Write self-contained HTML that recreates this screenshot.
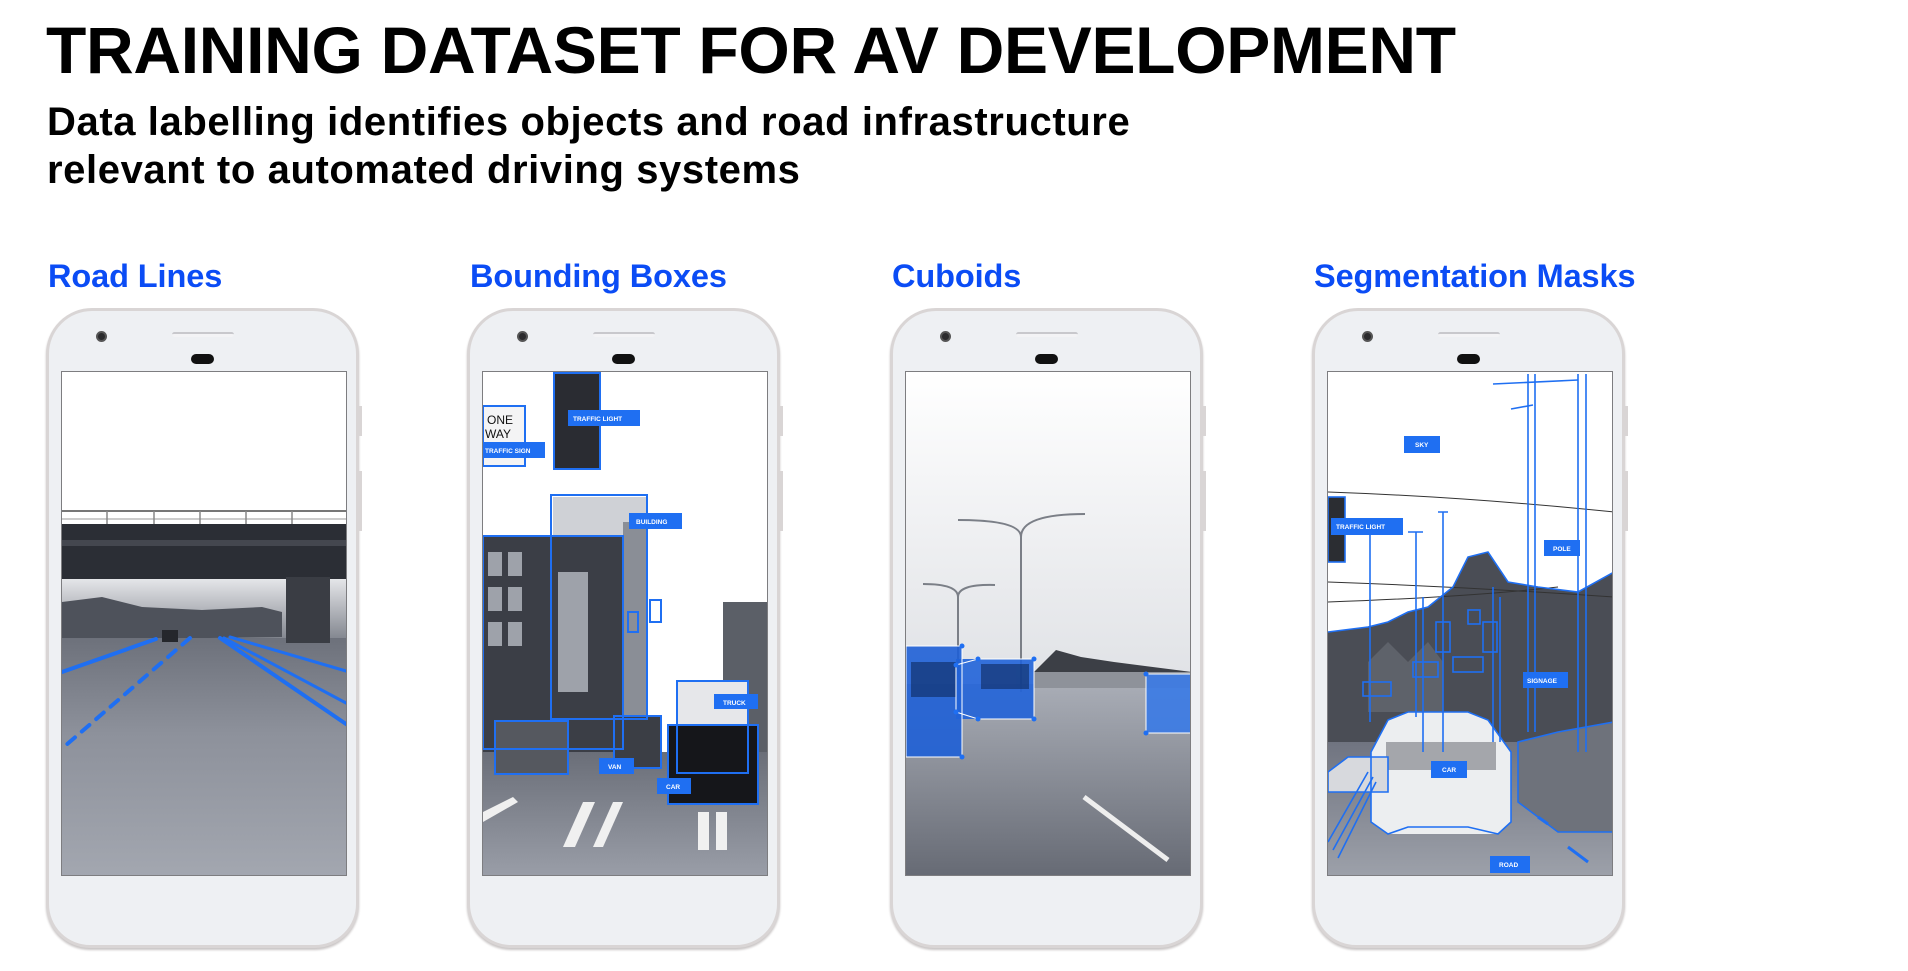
<!DOCTYPE html>
<html><head><meta charset="utf-8"><style>
*{margin:0;padding:0;box-sizing:border-box}
body{width:1908px;height:971px;background:#fff;position:relative;overflow:hidden;font-family:"Liberation Sans",sans-serif}
.t{position:absolute;left:46px;top:17px;font-size:66px;line-height:66px;font-weight:bold;color:#000;letter-spacing:-0.3px;white-space:nowrap}
.s{position:absolute;left:47px;font-size:40px;line-height:40px;font-weight:bold;color:#000;letter-spacing:0.6px;white-space:nowrap}
.h{position:absolute;top:260px;font-size:32.5px;line-height:32px;font-weight:bold;color:#0b4cf5;white-space:nowrap;letter-spacing:-0.1px}
.ph{position:absolute;top:308px;width:313px;height:640px;border:3px solid #d9d5d5;border-radius:46px 46px 44px 44px;background:#eef0f3;box-shadow:0 2px 2px #c9c5c5}
.cam{position:absolute;left:47px;top:20px;width:11px;height:11px;border-radius:50%;background:#2b2b2d;border:2px solid #555}
.spk{position:absolute;left:123px;top:21px;width:62px;height:5px;border-radius:3px;border-top:2px solid #c8c8cc;background:#f3f3f5}
.pil{position:absolute;left:142px;top:43px;width:23px;height:10px;border-radius:5px;background:#111}
.btn{position:absolute;right:-6px;width:3px;background:#d9d5d5}
.scr{position:absolute;top:371px;width:286px;height:505px;border:1px solid #7d7d80;background:#fff;overflow:hidden}
.scr svg{display:block}
</style></head><body>
<div class="t">TRAINING DATASET FOR AV DEVELOPMENT</div>
<div class="s" style="top:102px">Data labelling identifies objects and road infrastructure</div>
<div class="s" style="top:150px">relevant to automated driving systems</div>
<div class="h" style="left:48px">Road Lines</div>
<div class="h" style="left:470px">Bounding Boxes</div>
<div class="h" style="left:892px">Cuboids</div>
<div class="h" style="left:1314px">Segmentation Masks</div>

<div class="ph" style="left:46px"><div class="cam"></div><div class="spk"></div><div class="pil"></div><div class="btn" style="top:95px;height:30px"></div><div class="btn" style="top:160px;height:60px"></div></div>
<div class="ph" style="left:467px"><div class="cam"></div><div class="spk"></div><div class="pil"></div><div class="btn" style="top:95px;height:30px"></div><div class="btn" style="top:160px;height:60px"></div></div>
<div class="ph" style="left:890px"><div class="cam"></div><div class="spk"></div><div class="pil"></div><div class="btn" style="top:95px;height:30px"></div><div class="btn" style="top:160px;height:60px"></div></div>
<div class="ph" style="left:1312px"><div class="cam"></div><div class="spk"></div><div class="pil"></div><div class="btn" style="top:95px;height:30px"></div><div class="btn" style="top:160px;height:60px"></div></div>

<!-- screen 1 -->
<div class="scr" style="left:61px"><svg width="286" height="505" viewBox="0 0 286 505">
<defs><linearGradient id="r1" x1="0" y1="0" x2="0" y2="1"><stop offset="0" stop-color="#6d717b"/><stop offset="0.4" stop-color="#8d919b"/><stop offset="1" stop-color="#a3a7b0"/></linearGradient>
<linearGradient id="g1" x1="0" y1="0" x2="0" y2="1"><stop offset="0" stop-color="#e8e9ec"/><stop offset="1" stop-color="#7e828b"/></linearGradient></defs>
<rect x="0" y="205" width="286" height="65" fill="url(#g1)"/>
<path d="M0 230 L40 225 L80 235 L140 238 L200 235 L220 240 L220 265 L0 268Z" fill="#4e525b"/>
<rect x="0" y="266" width="286" height="239" fill="url(#r1)"/>
<line x1="0" y1="139" x2="286" y2="139" stroke="#777" stroke-width="2"/>
<line x1="0" y1="147" x2="286" y2="147" stroke="#999" stroke-width="1"/>
<g stroke="#888" stroke-width="1.5"><line x1="45" y1="139" x2="45" y2="152"/><line x1="92" y1="139" x2="92" y2="152"/><line x1="138" y1="139" x2="138" y2="152"/><line x1="184" y1="139" x2="184" y2="152"/><line x1="230" y1="139" x2="230" y2="152"/></g>
<rect x="0" y="152" width="286" height="55" fill="#2b2e35"/>
<rect x="0" y="168" width="286" height="6" fill="#44474f"/>
<rect x="224" y="205" width="44" height="66" fill="#3a3d44"/>
<rect x="100" y="258" width="16" height="12" fill="#25272c"/>
<g stroke="#1f6ff2" stroke-linecap="round">
<line x1="0" y1="300" x2="94" y2="267" stroke-width="4"/>
<line x1="128" y1="266" x2="3" y2="374" stroke-width="4" stroke-dasharray="10 9"/>
<line x1="158" y1="266" x2="284" y2="352" stroke-width="4"/>
<line x1="162" y1="266" x2="284" y2="331" stroke-width="3"/>
<line x1="168" y1="265" x2="284" y2="299" stroke-width="3"/>
</g></svg></div>

<!-- screen 2 -->
<div class="scr" style="left:482px"><svg width="286" height="505" viewBox="0 0 286 505" font-family="Liberation Sans" font-weight="bold" font-size="6.5" fill="#fff">
<defs><linearGradient id="r2" x1="0" y1="0" x2="0" y2="1"><stop offset="0" stop-color="#6a6e78"/><stop offset="1" stop-color="#9a9ea8"/></linearGradient></defs>
<rect x="0" y="380" width="286" height="125" fill="url(#r2)"/>
<rect x="70" y="125" width="95" height="230" fill="#cfd1d6"/>
<rect x="140" y="150" width="25" height="200" fill="#8a8e96"/>
<rect x="0" y="165" width="140" height="215" fill="#3b3e46"/>
<g fill="#9ea2aa"><rect x="5" y="180" width="14" height="24"/><rect x="25" y="180" width="14" height="24"/><rect x="5" y="215" width="14" height="24"/><rect x="25" y="215" width="14" height="24"/><rect x="5" y="250" width="14" height="24"/><rect x="25" y="250" width="14" height="24"/><rect x="75" y="200" width="30" height="120"/></g>
<rect x="240" y="230" width="46" height="150" fill="#5b5f67"/>
<rect x="194" y="309" width="71" height="92" fill="#e6e7ea"/>
<rect x="185" y="353" width="90" height="79" fill="#15161a"/>
<rect x="12" y="349" width="73" height="53" fill="#55585f"/>
<rect x="131" y="344" width="47" height="52" fill="#3b3e45"/>
<rect x="71" y="1" width="46" height="96" fill="#2a2c32"/>
<rect x="0" y="34" width="42" height="60" fill="#f4f4f5"/>
<text x="4" y="52" font-size="12" fill="#111" font-weight="normal">ONE</text><text x="2" y="66" font-size="12" fill="#111" font-weight="normal">WAY</text>
<g fill="#f0f0f0"><path d="M80 475 L100 430 L112 430 L92 475Z"/><path d="M110 475 L130 430 L140 430 L120 475Z"/><rect x="215" y="440" width="11" height="38"/><rect x="233" y="440" width="11" height="38"/><path d="M0 440 L30 425 L35 430 L0 450Z"/></g>
<g fill="none" stroke="#1f6ff2" stroke-width="2">
<rect x="71" y="1" width="46" height="96"/><rect x="0" y="34" width="42" height="60"/>
<rect x="68" y="123" width="96" height="224"/><rect x="0" y="164" width="140" height="213"/>
<rect x="194" y="309" width="71" height="92"/><rect x="185" y="353" width="90" height="79"/>
<rect x="12" y="349" width="73" height="53"/><rect x="131" y="344" width="47" height="52"/>
<rect x="167" y="228" width="11" height="22"/><rect x="145" y="240" width="10" height="20"/></g>
<g fill="#1f6ff2"><rect x="85" y="38" width="72" height="16"/><rect x="0" y="70" width="62" height="16"/><rect x="146" y="141" width="53" height="16"/><rect x="231" y="322" width="44" height="15"/><rect x="174" y="406" width="34" height="16"/><rect x="116" y="386" width="35" height="16"/></g>
<text x="90" y="49">TRAFFIC LIGHT</text><text x="2" y="81">TRAFFIC SIGN</text><text x="153" y="152">BUILDING</text><text x="240" y="333">TRUCK</text><text x="183" y="417">CAR</text><text x="125" y="397">VAN</text>
</svg></div>

<!-- screen 3 -->
<div class="scr" style="left:905px"><svg width="286" height="505" viewBox="0 0 286 505">
<defs><linearGradient id="s3" x1="0" y1="0" x2="0" y2="1"><stop offset="0" stop-color="#ffffff"/><stop offset="1" stop-color="#dfe1e5"/></linearGradient>
<linearGradient id="r3" x1="0" y1="0" x2="0" y2="1"><stop offset="0" stop-color="#a9adb6"/><stop offset="1" stop-color="#666a74"/></linearGradient></defs>
<rect width="286" height="320" fill="url(#s3)"/>
<path d="M128 300 L150 278 L175 285 L208 290 L286 300 L286 320 L128 320Z" fill="#3c3f46"/>
<rect x="0" y="312" width="286" height="193" fill="url(#r3)"/>
<rect x="128" y="300" width="158" height="16" fill="#8e929a"/>
<g stroke="#7b7f87" stroke-width="2" fill="none"><path d="M115 320 L115 165 Q115 148 52 148"/><path d="M115 165 Q115 142 179 142"/><path d="M52 305 L52 225 Q52 212 17 212"/><path d="M52 225 Q52 212 89 213"/></g>
<path d="M178 425 L262 488" stroke="#eee" stroke-width="5"/>
<rect x="0" y="274" width="56" height="111" fill="#1e5fd6" opacity="0.9"/>
<rect x="50" y="287" width="78" height="60" fill="#2163d8" opacity="0.9"/>
<rect x="240" y="302" width="46" height="59" fill="#3a7ae6" opacity="0.9"/>
<g fill="#0e2a5e" opacity="0.6"><rect x="5" y="290" width="45" height="35"/><rect x="75" y="292" width="48" height="25"/></g>
<g stroke="#fff" stroke-width="1" fill="none"><rect x="0" y="274" width="56" height="111"/><path d="M50 293 L72 287 L128 287 L128 347 L72 347 L50 340Z"/><rect x="240" y="302" width="46" height="59"/></g>
<g fill="#1f6ff2"><circle cx="56" cy="274" r="2.5"/><circle cx="56" cy="385" r="2.5"/><circle cx="50" cy="293" r="2.5"/><circle cx="72" cy="287" r="2.5"/><circle cx="128" cy="287" r="2.5"/><circle cx="128" cy="347" r="2.5"/><circle cx="72" cy="347" r="2.5"/><circle cx="50" cy="340" r="2.5"/><circle cx="240" cy="302" r="2.5"/><circle cx="240" cy="361" r="2.5"/></g>
</svg></div>

<!-- screen 4 -->
<div class="scr" style="left:1327px"><svg width="286" height="505" viewBox="0 0 286 505" font-family="Liberation Sans" font-weight="bold" font-size="6.5" fill="#fff">
<defs><linearGradient id="r4" x1="0" y1="0" x2="0" y2="1"><stop offset="0" stop-color="#707480"/><stop offset="1" stop-color="#9da1aa"/></linearGradient></defs>
<path d="M0 260 L40 255 L60 250 L80 240 L100 235 L125 215 L140 185 L160 180 L180 210 L210 215 L250 220 L286 200 L286 380 L0 380Z" fill="#4a4d55"/>
<path d="M40 290 L60 270 L80 290 L100 270 L115 290 L115 340 L40 340Z" fill="#5e626a"/>
<rect x="0" y="370" width="286" height="135" fill="url(#r4)"/>
<g stroke="#333" stroke-width="1" fill="none"><path d="M0 120 Q140 125 286 140"/><path d="M0 210 Q140 215 286 225"/><path d="M0 230 Q140 225 230 215"/></g>
<rect x="0" y="125" width="17" height="65" fill="#2b2d32"/>
<path d="M60 348 L80 340 L140 340 L160 348 L183 380 L183 450 L170 462 L60 462 L43 450 L43 380Z" fill="#eceef0"/>
<rect x="58" y="370" width="110" height="28" fill="#5b5e66" opacity="0.5"/>
<path d="M0 400 L20 385 L60 385 L60 420 L0 420Z" fill="#d7d9dd"/>
<path d="M190 370 L230 360 L286 350 L286 460 L230 460 L190 430Z" fill="#6e727b"/>
<g fill="none" stroke="#1f6ff2" stroke-width="1.6">
<path d="M60 348 L80 340 L140 340 L160 348 L183 380 L183 450 L170 462 L140 455 L80 455 L60 462 L43 450 L43 380Z"/>
<path d="M0 400 L20 385 L60 385 L60 420 L0 420Z"/>
<path d="M190 370 L230 360 L286 350 L286 460 L230 460 L190 430Z"/>
<path d="M0 260 L40 255 L60 250 L80 240 L100 235 L125 215 L140 185 L160 180 L180 210 L210 215 L250 220 L286 200"/>
<path d="M250 2 L250 380 M258 2 L258 380 M200 2 L200 360 M207 2 L207 360"/>
<path d="M165 12 L250 8 M183 37 L205 33"/>
<rect x="0" y="125" width="17" height="65"/>
<path d="M110 140 L120 140 M115 140 L115 380 M95 225 L95 380 M165 215 L165 370 M172 225 L172 370"/>
<path d="M35 152 L50 152 M42 152 L42 350 M80 160 L95 160 M88 160 L88 345"/>
<path d="M0 470 L40 400 M5 478 L45 405 M10 486 L48 410"/>
<rect x="108" y="250" width="14" height="30"/><rect x="155" y="250" width="14" height="30"/><rect x="140" y="238" width="12" height="14"/>
<rect x="35" y="310" width="28" height="14"/><rect x="85" y="290" width="25" height="15"/><rect x="125" y="285" width="30" height="15"/>
</g>
<g stroke="#1f6ff2" stroke-width="3"><line x1="210" y1="445" x2="220" y2="452"/><line x1="240" y1="475" x2="260" y2="490"/></g>
<g fill="#1f6ff2"><rect x="76" y="64" width="36" height="17"/><rect x="3" y="146" width="72" height="17"/><rect x="216" y="168" width="36" height="16"/><rect x="195" y="300" width="45" height="16"/><rect x="103" y="389" width="36" height="17"/><rect x="162" y="484" width="40" height="17"/></g>
<text x="87" y="75">SKY</text><text x="8" y="157">TRAFFIC LIGHT</text><text x="225" y="179">POLE</text><text x="199" y="311">SIGNAGE</text><text x="114" y="400">CAR</text><text x="171" y="495">ROAD</text>
</svg></div>
</body></html>
